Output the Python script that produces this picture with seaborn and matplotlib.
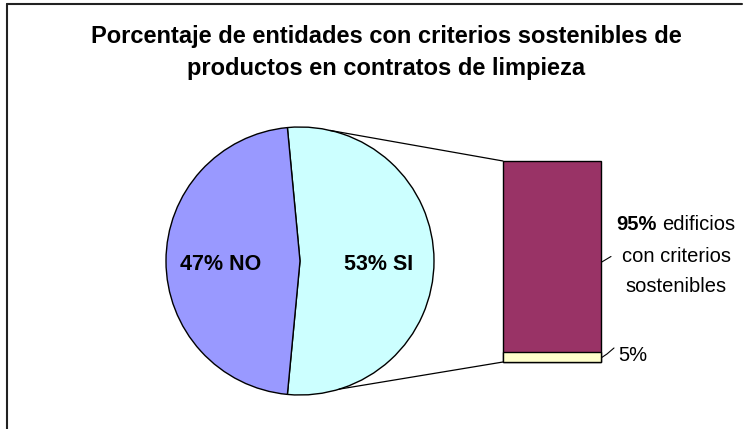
import matplotlib
matplotlib.use("Agg")
import matplotlib.pyplot as plt
import seaborn as sns
import numpy as np
import pandas as pd

# ---- data ----
title_lines = ["Porcentaje de entidades con criterios sostenibles de",
               "productos en contratos de limpieza"]
pie_labels = ["SI", "NO"]
pie_values = [53, 47]
pie_colors = ["#CCFFFF", "#9999FF"]
bar_text_bold = "95%"
bar_text_rest = ["edificios", "con criterios", "sostenibles"]
bar_values = [95, 5]          # top segment, bottom segment
bar_colors = ["#993366", "#FFFFCC"]
small_label = "5%"

sns.set_theme(style="white")
plt.rcParams["font.family"] = ["Liberation Sans", "DejaVu Sans"]

W, H = 751, 429
fig = plt.figure(figsize=(W / 100, H / 100), dpi=100)
fig.patch.set_facecolor("white")
ax = fig.add_axes([0, 0, 1, 1])


def py(y):
    return H - y


# ---- pie ----
cx, cy, R = 300, py(261), 134
start = -pie_values[0] / sum(pie_values) * 180
wedges, _ = ax.pie(pie_values, colors=pie_colors, startangle=start,
                   center=(cx, cy), radius=R, frame=True,
                   wedgeprops=dict(edgecolor="black", linewidth=1.0))
ax.set_xlim(0, W)
ax.set_ylim(0, H)
ax.axis("off")

for w, lab, val in zip(wedges, pie_labels, pie_values):
    mid = np.deg2rad((w.theta1 + w.theta2) / 2)
    x = cx + 0.59 * R * np.cos(mid)
    ax.text(x, cy - 9, f"{val}% {lab}", ha="center", va="baseline",
            fontsize=15.5, fontweight="bold", color="black")

# ---- bar (pie of bar) ----
bx0, bx1, by0, by1 = 503, 601, 161, 362
ax2 = fig.add_axes([bx0 / W, (H - by1) / H, (bx1 - bx0) / W, (by1 - by0) / H])
df_total = pd.DataFrame({"g": ["b"], "v": [sum(bar_values)]})
df_low = pd.DataFrame({"g": ["b"], "v": [bar_values[1]]})
sns.barplot(data=df_total, x="g", y="v", color=bar_colors[0], saturation=1,
            width=1, edgecolor="black", linewidth=1.0, ax=ax2)
sns.barplot(data=df_low, x="g", y="v", color=bar_colors[1], saturation=1,
            width=1, edgecolor="black", linewidth=1.0, ax=ax2)
ax2.set_xlim(-0.5, 0.5)
ax2.set_ylim(0, sum(bar_values))
ax2.axis("off")
for p in ax2.patches:
    p.set_clip_on(False)


def to_main(x, y):
    return ax.transData.inverted().transform(ax2.transData.transform((x, y)))


# connector lines pie -> bar
for ang, yb in [(77, sum(bar_values)), (-73, 0)]:
    a = np.deg2rad(ang)
    p0 = (cx + R * np.cos(a), cy + R * np.sin(a))
    p1 = to_main(-0.5, yb)
    ax.plot([p0[0], p1[0]], [p0[1], p1[1]], color="black", lw=0.9)

# leader lines and labels
top_mid = bar_values[1] + bar_values[0] / 2
q = to_main(0.5, top_mid)
ax.plot([q[0], q[0] + 10], [q[1] - 6, q[1]], color="black", lw=0.8)
low_mid = bar_values[1] / 2
q2 = to_main(0.5, low_mid)
ax.plot([q2[0], q2[0] + 6, q2[0] + 13], [q2[1] - 1, q2[1] + 3, q2[1] + 9],
        color="black", lw=0.8)
ax.text(618, py(361), small_label, ha="left", va="baseline", fontsize=14.5,
        color="black")

fs = 14.5
renderer = fig.canvas.get_renderer()
tb = ax.text(0, py(230), bar_text_bold, fontsize=fs, fontweight="bold",
             va="baseline", ha="left", color="black")
tr = ax.text(0, py(230), bar_text_rest[0], fontsize=fs, va="baseline",
             ha="left", color="black")
wb = tb.get_window_extent(renderer).width
wr = tr.get_window_extent(renderer).width
wsp = fs * 0.278 * 100 / 72
tx = 676
x0 = tx - (wb + wsp + wr) / 2
tb.set_x(x0)
tr.set_x(x0 + wb + wsp)
ax.text(tx, py(261.5), bar_text_rest[1], fontsize=fs, ha="center",
        va="baseline", color="black")
ax.text(tx, py(291.5), bar_text_rest[2], fontsize=fs, ha="center",
        va="baseline", color="black")

# ---- title ----
for line, yb in zip(title_lines, [43.5, 74.5]):
    ax.text(386.5, py(yb), line, ha="center", va="baseline", fontsize=17,
            fontweight="bold", color="black")

# ---- frame (left & top only visible) ----
ax.plot([7, 7], [0, py(4)], color="#222222", lw=1.5, clip_on=False)
ax.plot([7, 742], [py(4), py(4)], color="#222222", lw=1.5, clip_on=False)

fig.savefig("out.png", dpi=100, facecolor="white")
